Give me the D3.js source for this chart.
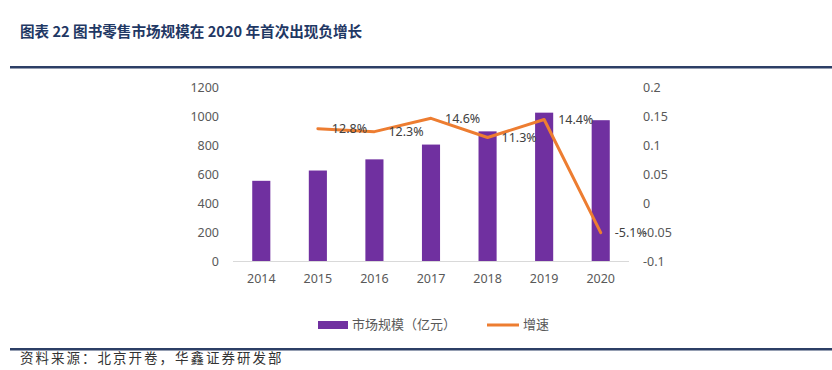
<!DOCTYPE html>
<html><head><meta charset="utf-8">
<script src="https://cdn.jsdelivr.net/npm/d3@7"></script>
<style>
body{margin:0;background:#fff;}
svg{display:block;font-family:"Noto Sans","Noto Sans CJK SC",sans-serif;}
</style></head>
<body><svg id="c" width="832" height="370"></svg>
<script>
const title = "图表 22 图书零售市场规模在 2020 年首次出现负增长";
const source = "资料来源：北京开卷，华鑫证券研发部";
const years = ["2014","2015","2016","2017","2018","2019","2020"];
const marketSize = [553, 624, 701, 803, 894, 1023, 971];
const growthYears = ["2015","2016","2017","2018","2019","2020"];
const growth = [0.128, 0.123, 0.146, 0.113, 0.144, -0.051];
const growthLabels = ["12.8%","12.3%","14.6%","11.3%","14.4%","-5.1%"];
const leftTicks = [0, 200, 400, 600, 800, 1000, 1200];
const rightTicks = [-0.1, -0.05, 0, 0.05, 0.1, 0.15, 0.2];
const seriesNames = ["市场规模（亿元）", "增速"];

const svg = d3.select("#c");
const navy = "#2c3f66";
const gray = "#595959";
const purple = "#7030a0";
const orange = "#ed7d31";

svg.append("text").attr("x", 20).attr("y", 33).attr("dominant-baseline","middle")
  .attr("font-size", 14.6).attr("font-weight", "bold").attr("fill", "#1f3864")
  .attr("font-family", "'Noto Sans CJK SC',sans-serif").text(title);

svg.append("line").attr("x1",10).attr("x2",832).attr("y1",67.3).attr("y2",67.3)
  .attr("stroke",navy).attr("stroke-width",2.4);
svg.append("line").attr("x1",10).attr("x2",832).attr("y1",349.3).attr("y2",349.3)
  .attr("stroke",navy).attr("stroke-width",2.4);

svg.append("text").attr("x", 20).attr("y", 359).attr("dominant-baseline","middle")
  .attr("font-size", 13.5).attr("fill", "#333").attr("letter-spacing", 2)
  .attr("font-family", "'Noto Sans CJK SC',sans-serif").text(source);

const x = d3.scaleBand().domain(years).range([233, 629]).paddingInner(0.68).paddingOuter(0.34);
const yL = d3.scaleLinear().domain([0, 1200]).range([261, 87]);
const yR = d3.scaleLinear().domain([-0.1, 0.2]).range([261, 87]);

// left axis
const la = svg.append("g").attr("transform","translate(219,0)")
  .call(d3.axisLeft(yL).tickValues(leftTicks).tickSize(0).tickPadding(0).tickFormat(d3.format("d")));
la.select(".domain").remove();
la.selectAll("text").attr("font-size",12.5).attr("fill",gray).attr("font-family","'Noto Sans',sans-serif");

// right axis
const ra = svg.append("g").attr("transform","translate(643,0)")
  .call(d3.axisRight(yR).tickValues(rightTicks).tickSize(0).tickPadding(0).tickFormat(d => String(+d.toFixed(2))));
ra.select(".domain").remove();
ra.selectAll("text").attr("font-size",12.5).attr("fill",gray).attr("font-family","'Noto Sans',sans-serif");

// bars
svg.append("g").selectAll("rect").data(years).join("rect")
  .attr("x", d => x(d)).attr("width", x.bandwidth())
  .attr("y", (d,i) => yL(marketSize[i])).attr("height", (d,i) => yL(0) - yL(marketSize[i]))
  .attr("fill", purple);

// baseline
svg.append("line").attr("x1",233).attr("x2",629).attr("y1",yL(0)+0.5).attr("y2",yL(0)+0.5)
  .attr("stroke","#d9d9d9").attr("stroke-width",1);

// x axis
const xa = svg.append("g").attr("transform","translate(0,"+(yL(0)+18)+")")
  .call(d3.axisBottom(x).tickSize(0).tickPadding(0));
xa.select(".domain").remove();
xa.selectAll("text").attr("font-size",12.5).attr("fill",gray).attr("dy","0.32em").attr("font-family","'Noto Sans',sans-serif");

// line
const cx = d => x(d) + x.bandwidth()/2;
const line = d3.line().x((d,i) => cx(growthYears[i])).y(d => yR(d));
svg.append("path").datum(growth).attr("d", line).attr("fill","none")
  .attr("stroke", orange).attr("stroke-width", 3).attr("stroke-linejoin","round").attr("stroke-linecap","round");

svg.append("g").selectAll("text").data(growth).join("text")
  .attr("x", (d,i) => cx(growthYears[i]) + 14).attr("y", d => yR(d) + 1)
  .attr("dominant-baseline","middle").attr("font-size",12.5).attr("fill","#404040")
  .attr("font-family","'Noto Sans',sans-serif")
  .text((d,i) => growthLabels[i]);

// legend
svg.append("rect").attr("x",318).attr("y",321).attr("width",30).attr("height",8).attr("fill",purple);
svg.append("text").attr("x",352).attr("y",325.5).attr("dominant-baseline","middle")
  .attr("font-size",13).attr("fill",gray).attr("font-family","'Noto Sans CJK SC',sans-serif").text(seriesNames[0]);
svg.append("line").attr("x1",487).attr("x2",519).attr("y1",325).attr("y2",325)
  .attr("stroke",orange).attr("stroke-width",3);
svg.append("text").attr("x",523).attr("y",325.5).attr("dominant-baseline","middle")
  .attr("font-size",13).attr("fill",gray).attr("font-family","'Noto Sans CJK SC',sans-serif").text(seriesNames[1]);
</script></body></html>
